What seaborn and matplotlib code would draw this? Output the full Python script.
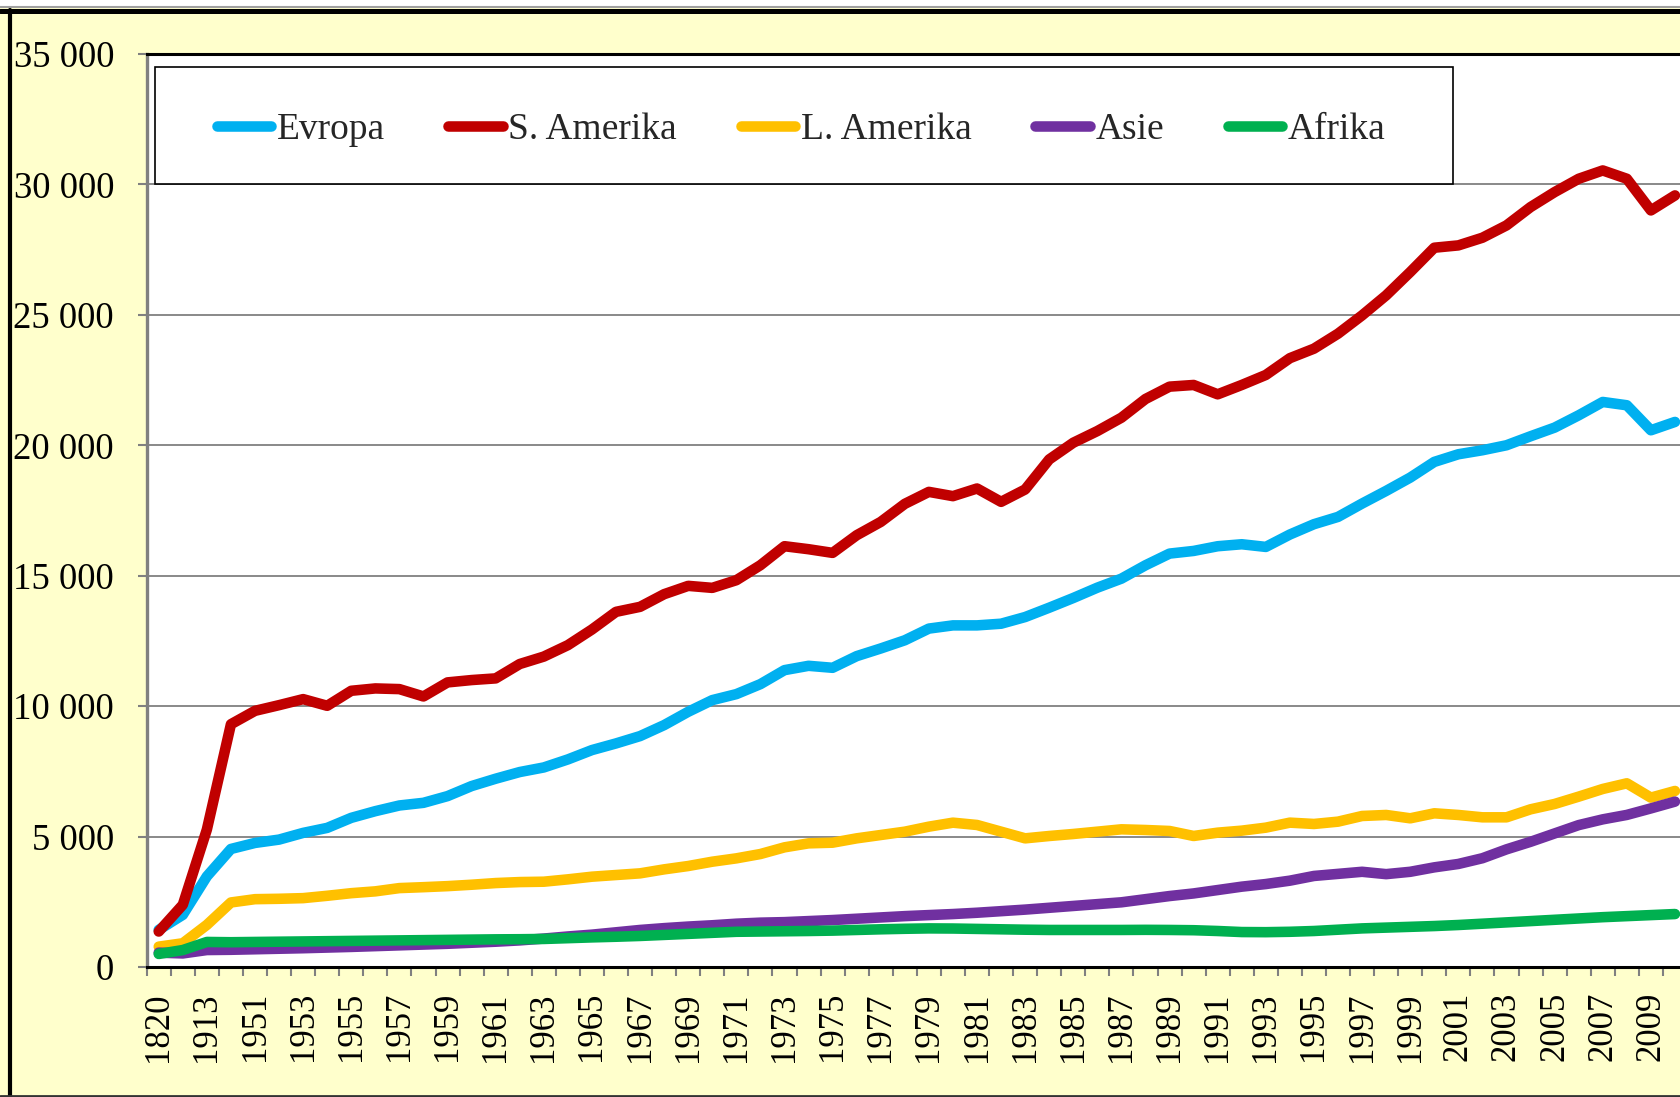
"""
GDP per capita by region, 1820-2010 (line chart)
"""

import numpy as np
import pandas as pd
import matplotlib
matplotlib.use("Agg")
import matplotlib.pyplot as plt
from matplotlib.patches import Rectangle
from matplotlib.lines import Line2D
import seaborn as sns

# categories on the x axis
years = ["1820", "1870", "1913"] + [str(y) for y in range(1950, 2011)]

regions = ["Evropa", "S. Amerika", "L. Amerika", "Asie", "Afrika"]
colors = ["#00B0F0", "#C00000", "#FFC000", "#7030A0", "#00B050"]

evropa = [1423, 2000, 3474, 4525, 4756, 4884, 5141, 5333, 5718, 5974,
          6192, 6294, 6551, 6936, 7218, 7474, 7650, 7958, 8316, 8571,
          8852, 9273, 9784, 10231, 10461, 10844, 11380, 11546, 11470, 11917,
          12211, 12525, 12973, 13096, 13096, 13160, 13416, 13774, 14146, 14542,
          14888, 15400, 15848, 15950, 16130, 16206, 16104, 16580, 16975, 17255,
          17766, 18252, 18762, 19363, 19656, 19810, 20001, 20346, 20678, 21150,
          21661, 21534, 20576, 20895]

s_amerika = [1360, 2385, 5269, 9307, 9820, 10038, 10269, 10013, 10589, 10679,
             10653, 10371, 10910, 11000, 11064, 11615, 11900, 12338, 12938, 13615,
             13807, 14292, 14611, 14534, 14828, 15403, 16131, 16016, 15875, 16552,
             17063, 17755, 18214, 18050, 18344, 17832, 18306, 19458, 20098, 20546,
             21058, 21774, 22248, 22312, 21954, 22312, 22696, 23340, 23704, 24279,
             24981, 25748, 26642, 27574, 27663, 27957, 28429, 29132, 29706, 30217,
             30536, 30217, 29004, 29579]

l_amerika = [780, 910, 1615, 2474, 2600, 2615, 2640, 2730, 2830, 2900,
             3025, 3060, 3100, 3154, 3218, 3256, 3270, 3360, 3462, 3526,
             3590, 3743, 3871, 4037, 4165, 4331, 4587, 4740, 4766, 4932,
             5060, 5188, 5380, 5533, 5444, 5188, 4932, 5022, 5099, 5188,
             5278, 5252, 5214, 5023, 5150, 5227, 5342, 5534, 5483, 5572,
             5789, 5828, 5700, 5892, 5828, 5738, 5738, 6045, 6250, 6531,
             6825, 7042, 6493, 6748]

asie = [550, 520, 650, 660, 680, 700, 720, 745, 770, 800,
        830, 860, 890, 930, 970, 1020, 1090, 1170, 1240, 1330,
        1420, 1490, 1550, 1600, 1660, 1700, 1720, 1760, 1800, 1850,
        1900, 1950, 1990, 2030, 2080, 2140, 2200, 2270, 2340, 2410,
        2480, 2600, 2720, 2820, 2950, 3080, 3180, 3310, 3490, 3570,
        3650, 3560, 3650, 3820, 3950, 4170, 4510, 4800, 5120, 5440,
        5660, 5830, 6080, 6340]

afrika = [500, 650, 960, 950, 960, 970, 980, 990, 1000, 1010,
          1020, 1030, 1040, 1050, 1060, 1065, 1075, 1105, 1135, 1160,
          1190, 1230, 1270, 1310, 1350, 1360, 1370, 1380, 1395, 1420,
          1445, 1465, 1480, 1475, 1460, 1445, 1430, 1420, 1420, 1420,
          1420, 1425, 1420, 1410, 1380, 1340, 1335, 1350, 1380, 1430,
          1480, 1510, 1540, 1570, 1610, 1660, 1710, 1760, 1810, 1860,
          1910, 1950, 1990, 2030]

y_ticks = [0, 5000, 10000, 15000, 20000, 25000, 30000, 35000]

# long-form table for seaborn
df = pd.DataFrame({"idx": np.arange(len(years)), "Evropa": evropa,
                   "S. Amerika": s_amerika, "L. Amerika": l_amerika,
                   "Asie": asie, "Afrika": afrika})
long = df.melt(id_vars="idx", var_name="region", value_name="value")

W, H = 1681, 1097
YELLOW = "#FFFFCC"
GRAY = "#808080"
LW = 7.6


def fx(px):
    return px / W


def fy(py):
    # pixel row from top -> figure fraction from bottom
    return (H - py) / H


sns.set_theme(style="white")
plt.rcParams["font.family"] = ["Liberation Serif", "DejaVu Serif"]

fig = plt.figure(figsize=(W / 100, H / 100), dpi=100, facecolor=YELLOW)

# white strip at the very top (cut-off title area) and the frame lines
fig.add_artist(Rectangle((0, fy(7.5)), 1, 7.5 / H, transform=fig.transFigure,
                         facecolor="white", edgecolor="none", zorder=-2))
fig.add_artist(Line2D([0, 1], [fy(7), fy(7)], transform=fig.transFigure,
                      color="#A0A0A0", lw=1.5, zorder=-1))
fig.add_artist(Line2D([0, 1], [fy(10.5), fy(10.5)], transform=fig.transFigure,
                      color="black", lw=3.6, zorder=-1))
fig.add_artist(Line2D([fx(10), fx(10)], [fy(10), fy(1096)], transform=fig.transFigure,
                      color="black", lw=3.0, zorder=-1))
fig.add_artist(Line2D([0, 1], [fy(1095.5), fy(1095.5)], transform=fig.transFigure,
                      color="#333333", lw=2.0, zorder=-1))

# plot area (extends slightly past the right edge, as in the source)
left_px, right_px, top_px, bot_px = 146.7, 1687, 54, 967
ax = fig.add_axes([fx(left_px), fy(bot_px), fx(right_px - left_px), (bot_px - top_px) / H])
ax.set_facecolor("white")

sns.lineplot(data=long, x="idx", y="value", hue="region", hue_order=regions,
             palette=colors, linewidth=LW, legend=False, sort=False,
             estimator=None, ax=ax)
for line in ax.lines:
    line.set_solid_capstyle("round")
    line.set_solid_joinstyle("round")
    line.set_zorder(3)

ax.set_xlim(-0.5, len(years) - 0.5)
ax.set_ylim(0, 35000)
ax.set_xlabel("")
ax.set_ylabel("")

# y axis
ax.set_yticks(y_ticks)
ax.set_yticklabels([f"{v:,}".replace(",", " ") for v in y_ticks], fontsize=26.5)
ax.yaxis.grid(True, color=GRAY, lw=1.3, zorder=1)
ax.set_axisbelow(True)
ax.tick_params(axis="y", direction="out", length=6.5, width=1.5, color=GRAY,
               pad=17, left=True, labelcolor="black")

# x axis: ticks between categories, labels on every second category
ax.set_xticks(np.arange(0, len(years), 2))
ax.set_xticklabels(years[::2], rotation=90, fontsize=25)
ax.set_xticks(np.arange(-0.5, len(years), 1), minor=True)
ax.tick_params(axis="x", which="major", length=0, pad=18, labelcolor="black")
ax.tick_params(axis="x", which="minor", direction="out", length=6.5, width=1.5,
               color=GRAY, bottom=True)

for side in ["top", "bottom", "right"]:
    ax.spines[side].set_color("black")
    ax.spines[side].set_linewidth(2.2)
ax.spines["left"].set_color(GRAY)
ax.spines["left"].set_linewidth(2.4)

# legend box
bx0, bx1, by0, by1 = 155, 1453, 67.5, 184.4
fig.add_artist(Rectangle((fx(bx0), fy(by1)), fx(bx1 - bx0), (by1 - by0) / H,
                         transform=fig.transFigure, facecolor="white",
                         edgecolor="black", lw=1.2, zorder=2))
handles = [Line2D([0], [0], color=c, lw=LW, solid_capstyle="round") for c in colors]
fig.legend(handles, regions, loc="center", ncol=5, frameon=False, fontsize=27,
           handlelength=1.45, handletextpad=0.15, columnspacing=1.7,
           bbox_to_anchor=(fx((bx0 + bx1) / 2 - 3), fy((by0 + by1) / 2 + 3.5)),
           bbox_transform=fig.transFigure)

plt.savefig("out.png", dpi=100, facecolor=fig.get_facecolor())
